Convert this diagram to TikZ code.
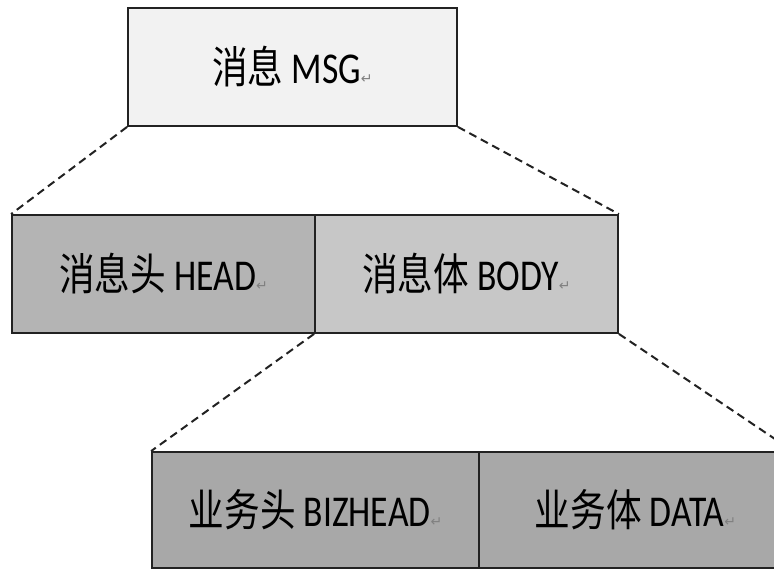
\documentclass[tikz,border=0pt]{standalone}
\usepackage{fontspec}
\setmainfont{Carlito}
\newfontfamily\cjk{Noto Sans CJK SC}
\newfontfamily\symfont{DejaVu Sans}
\definecolor{msgfill}{HTML}{F2F2F2}
\definecolor{headfill}{HTML}{B4B4B4}
\definecolor{bodyfill}{HTML}{C7C7C7}
\definecolor{bizfill}{HTML}{A8A8A8}
\definecolor{edge}{HTML}{222222}
\newcommand\pmark{{\symfont\fontsize{14}{14}\selectfont\color{black!50}↵}}
\newcommand\lbl[1]{\scalebox{0.81}[1]{\fontsize{44}{44}\selectfont #1}\pmark}
\tikzset{
  cell/.style={draw=edge, line width=1.8pt, inner sep=0pt, rectangle, text=black},
  link/.style={draw=edge, line width=2pt, dash pattern=on 8pt off 5pt}
}
\begin{document}
\begin{tikzpicture}[x=1pt,y=-1pt]
\useasboundingbox (0,0) rectangle (774,572);
\clip (0,0) rectangle (774,572);
\node[cell, fill=msgfill, minimum width=329pt, minimum height=118pt] (msg) at (292.5,67) {\lbl{{\cjk 消息} MSG}};
\node[cell, fill=headfill, minimum width=303pt, minimum height=118pt] (head) at (163.5,274) {\lbl{{\cjk 消息头} HEAD}};
\node[cell, fill=bodyfill, minimum width=303pt, minimum height=118pt] (body) at (466.5,274) {\lbl{{\cjk 消息体} BODY}};
\node[cell, fill=bizfill, minimum width=327pt, minimum height=116pt] (biz) at (315.5,510) {\lbl{{\cjk 业务头} BIZHEAD}};
\node[cell, fill=bizfill, minimum width=313pt, minimum height=116pt] (data) at (635.5,510) {\lbl{{\cjk 业务体} DATA}};
\draw[link] (msg.south west) -- (head.north west);
\draw[link] (msg.south east) -- (body.north east);
\draw[link] (body.south west) -- (biz.north west);
\draw[link] (body.south east) -- (data.north east);
\end{tikzpicture}
\end{document}
